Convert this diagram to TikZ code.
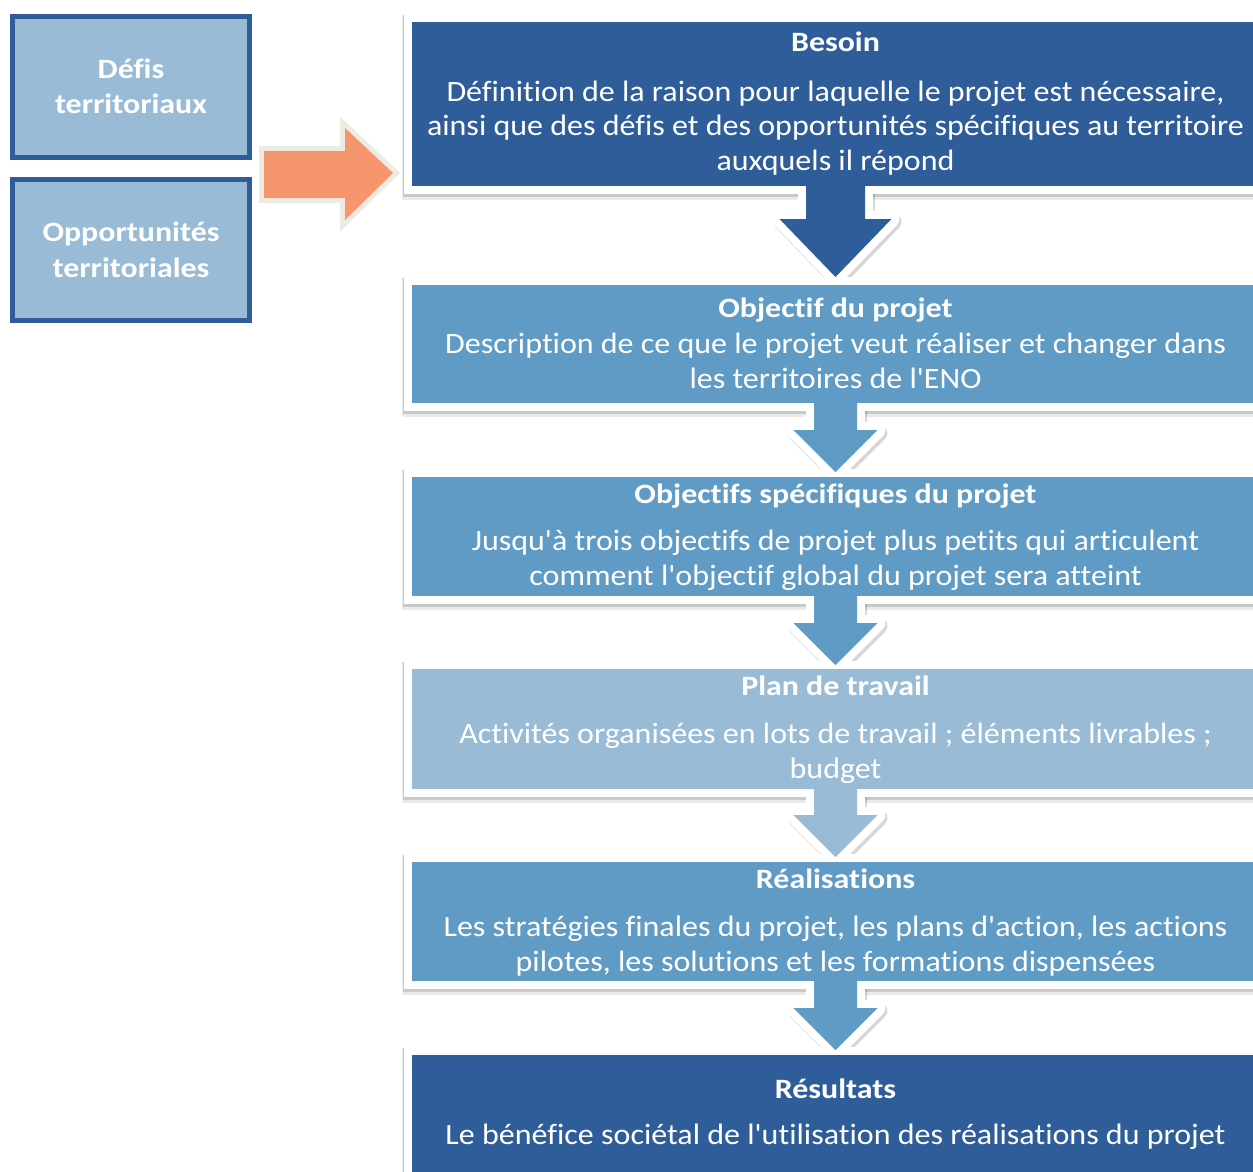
\documentclass[tikz,border=0pt]{standalone}
\usepackage{fontspec}
\newfontfamily\bodyf{Carlito}[FakeStretch=1.085, Ligatures=NoCommon]
\newfontfamily\ttlf{Carlito}[FakeStretch=1.14, Ligatures=NoCommon]
\usetikzlibrary{calc}
\definecolor{dkblue}{RGB}{47,93,153}
\definecolor{mdblue}{RGB}{96,155,197}
\definecolor{ltblue}{RGB}{153,187,214}
\definecolor{orng}{RGB}{246,150,111}
\definecolor{cream}{RGB}{238,236,225}
\newcommand\bodyfnt{\bodyf\fontsize{29.5}{35}\selectfont}
\newcommand\ttlfnt{\ttlf\bfseries\fontsize{28}{35}\selectfont}
\pgfdeclarelayer{bgl}
\pgfdeclarelayer{shadowl}
\pgfdeclarelayer{framel}
\pgfdeclarelayer{arrowl}
\pgfsetlayers{bgl,shadowl,framel,arrowl,main}
% x, ytop, yhead, ytip, shafthalf, headhalf, color
\newcommand\bdarrow[7]{%
  \begin{pgfonlayer}{shadowl}
  \draw[line width=16pt, black, opacity=0.16, line join=round, xshift=2pt, yshift=-3pt]
    ({#1-#5},#2) -- ({#1+#5},#2) -- ({#1+#5},#3) -- ({#1+#6},#3) -- (#1,#4) -- ({#1-#6},#3) -- ({#1-#5},#3) -- cycle;
  \end{pgfonlayer}
  \begin{pgfonlayer}{arrowl}
  \draw[line width=16pt, white, line join=round]
    ({#1-#5},#2) -- ({#1+#5},#2) -- ({#1+#5},#3) -- ({#1+#6},#3) -- (#1,#4) -- ({#1-#6},#3) -- ({#1-#5},#3) -- cycle;
  \fill[#7]
    ({#1-#5},#2) -- ({#1+#5},#2) -- ({#1+#5},#3) -- ({#1+#6},#3) -- (#1,#4) -- ({#1-#6},#3) -- ({#1-#5},#3) -- cycle;
  \end{pgfonlayer}}
\newcommand\myframe[1]{%
  \begin{pgfonlayer}{shadowl}
  \fill[black, opacity=0.08] ([xshift=-10pt,yshift=7pt]#1.north west) rectangle ([xshift=10pt,yshift=-14pt]#1.south east);
  \fill[black, opacity=0.14] ([xshift=-9pt,yshift=7pt]#1.north west) rectangle ([xshift=9pt,yshift=-11pt]#1.south east);
  \end{pgfonlayer}
  \begin{pgfonlayer}{framel}
  \fill[white] ([xshift=-8pt,yshift=8pt]#1.north west) rectangle ([xshift=8pt,yshift=-8pt]#1.south east);
  \end{pgfonlayer}}
\tikzset{
  stage/.style={rectangle, inner sep=0pt, outer sep=0pt, minimum width=850pt, minimum height=#1, anchor=north west, draw=none},
  side/.style={rectangle, draw=dkblue, line width=5pt, fill=ltblue, minimum width=237pt, minimum height=141pt, inner sep=0pt},
  ttl/.style={font=\ttlfnt, text=white, anchor=base, inner sep=0pt},
  bdy/.style={font=\bodyfnt, text=white, anchor=base, inner sep=0pt},
}
\begin{document}
\begin{tikzpicture}[x=1pt, y=-1pt]
\useasboundingbox (0,0) rectangle (1253,1171);
\clip (0,0) rectangle (1253,1171);
\begin{pgfonlayer}{bgl}
\fill[white] (0,0) rectangle (1253,1171);
\end{pgfonlayer}

% stage boxes
\node[stage=164pt, fill=dkblue] (besoin) at (412,22) {};
\node[stage=118pt, fill=mdblue] (objectif) at (412,285) {};
\node[stage=119pt, fill=mdblue] (specif) at (412,477) {};
\node[stage=120pt, fill=ltblue] (plan) at (412,669) {};
\node[stage=119pt, fill=mdblue] (realis) at (412,862) {};
\node[stage=130pt, fill=dkblue] (result) at (412,1055) {};
\myframe{besoin}
\myframe{objectif}
\myframe{specif}
\myframe{plan}
\myframe{realis}
\myframe{result}

% block arrows between stages
\bdarrow{835.5}{170}{219}{277}{29.5}{56}{dkblue}
\bdarrow{835.5}{390}{430}{472}{21.5}{42}{mdblue}
\bdarrow{835.5}{584}{623}{665}{21.5}{42}{mdblue}
\bdarrow{835.5}{776}{815}{857}{21.5}{42}{ltblue}
\bdarrow{835.5}{969}{1008}{1050}{21.5}{42}{mdblue}

% texts
\node[ttl] (t1) at (835.5,51) {Besoin};
\node[bdy] (t1a) at (835.5,101) {Définition de la raison pour laquelle le projet est nécessaire,};
\node[bdy] (t1b) at (835.5,135) {ainsi que des défis et des opportunités spécifiques au territoire};
\node[bdy] (t1c) at (835.5,170) {auxquels il répond};

\node[ttl] (t2) at (835.5,317) {Objectif du projet};
\node[bdy] (t2a) at (835.5,353) {Description de ce que le projet veut réaliser et changer dans};
\node[bdy] (t2b) at (835.5,388) {les territoires de l'ENO};

\node[ttl] (t3) at (835.5,503) {Objectifs spécifiques du projet};
\node[bdy] (t3a) at (835.5,550) {Jusqu'à trois objectifs de projet plus petits qui articulent};
\node[bdy] (t3b) at (835.5,585) {comment l'objectif global du projet sera atteint};

\node[ttl] (t4) at (835.5,695) {Plan de travail};
\node[bdy] (t4a) at (835.5,743) {Activités organisées en lots de travail ; éléments livrables ;};
\node[bdy] (t4b) at (835.5,778) {budget};

\node[ttl] (t5) at (835.5,888) {Réalisations};
\node[bdy] (t5a) at (835.5,936) {Les stratégies finales du projet, les plans d'action, les actions};
\node[bdy] (t5b) at (835.5,971) {pilotes, les solutions et les formations dispensées};

\node[ttl] (t6) at (835.5,1098) {Résultats};
\node[bdy] (t6a) at (835.5,1144) {Le bénéfice sociétal de l'utilisation des réalisations du projet};

% side boxes
\node[side] (defis) at (131,87) {};
\node[side] (opport) at (131,250) {};
\node[ttl] (d1) at (131,78) {Défis};
\node[ttl] (d2) at (131,113) {territoriaux};
\node[ttl] (o1) at (131,241) {Opportunités};
\node[ttl] (o2) at (131,277) {territoriales};

% orange arrow
\draw[cream, line width=10pt, line join=miter, fill=orng]
  (264,151) -- (345,151) -- (345,128) -- (393,173) -- (345,220) -- (345,198) -- (264,198) -- cycle;
\fill[orng] (264,151) -- (345,151) -- (345,128) -- (393,173) -- (345,220) -- (345,198) -- (264,198) -- cycle;
\end{tikzpicture}
\end{document}
